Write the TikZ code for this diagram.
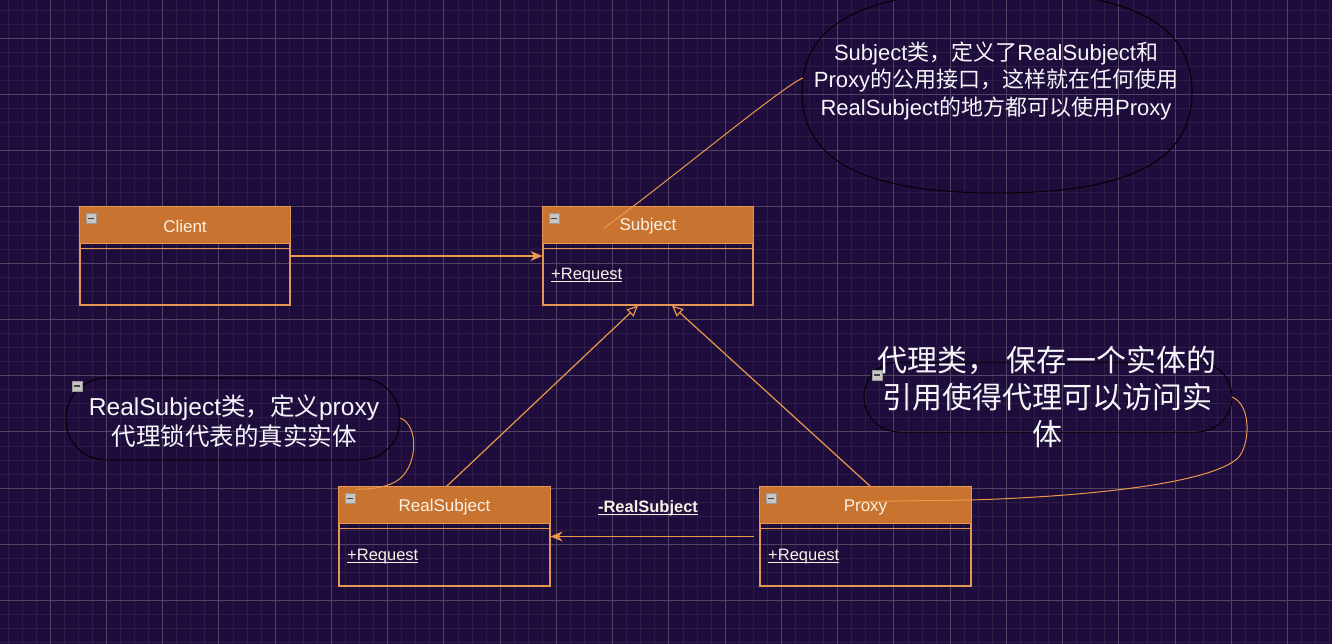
\documentclass[tikz,border=0pt]{standalone}
\usepackage{fontspec}
\setmainfont{Liberation Sans}
\newfontfamily\cjk{Noto Sans CJK SC}
\usetikzlibrary{arrows.meta,calc}
\definecolor{bg}{RGB}{30,12,60}
\definecolor{gridminor}{RGB}{44,28,70}
\definecolor{gridmajor}{RGB}{80,68,98}
\definecolor{hdr}{RGB}{200,116,48}
\definecolor{bord}{RGB}{228,150,84}
\definecolor{txt}{RGB}{250,240,228}
\definecolor{conn}{RGB}{234,152,74}
\definecolor{notetxt}{RGB}{245,245,250}
\newcommand\myul[1]{\setbox0\hbox{#1}\rlap{\rule[-2.2pt]{\wd0}{1.1pt}}\box0}
\tikzset{
  classbox/.style={draw=bord, line width=1.1pt, inner sep=0pt},
  hdrtext/.style={text=txt, font=\fontsize{17}{19}\selectfont, inner sep=0pt},
  methtext/.style={text=txt, font=\fontsize{16.5}{19}\selectfont, inner sep=0pt, anchor=west},
  connline/.style={draw=conn, line width=1.2pt},
  noteline/.style={draw=black, line width=1pt},
  notetext/.style={text=notetxt, align=center, inner sep=0pt},
  minusicon/.pic={\draw[fill=gray!45, draw=gray!80, line width=0.6pt] (-5,-5) rectangle (5,5);
                  \draw[line width=1.4pt, black!75] (-3,0) -- (3,0);}
}
\begin{document}
\begin{tikzpicture}[x=1pt,y=-1pt]
\fill[bg] (0,0) rectangle (1332,644);
\useasboundingbox (0,0) rectangle (1332,644);
% grid
\foreach \i in {-1,...,95} {
  \draw[gridminor, line width=0.6pt] ({7.8125+\i*14.0625},0) -- ({7.8125+\i*14.0625},644);
}
\foreach \i in {-1,...,46} {
  \draw[gridminor, line width=0.6pt] (0,{9.875+\i*14.0625}) -- (1332,{9.875+\i*14.0625});
}
\foreach \i in {0,...,24} {
  \draw[gridmajor, line width=0.8pt] ({-6.25+\i*56.25},0) -- ({-6.25+\i*56.25},644);
}
\foreach \i in {0,...,11} {
  \draw[gridmajor, line width=0.8pt] (0,{38+\i*56.25}) -- (1332,{38+\i*56.25});
}

% classes
\node[classbox, minimum width=210pt, minimum height=98pt] (client) at (185,256) {};
\node[classbox, minimum width=210pt, minimum height=98pt] (subject) at (648,256) {};
\node[classbox, minimum width=211pt, minimum height=99pt] (real) at (444.5,536.5) {};
\node[classbox, minimum width=211pt, minimum height=99pt] (proxy) at (865.5,536.5) {};

\foreach \c in {client,subject,real,proxy} {
  \fill[hdr] (\c.north west) rectangle ([yshift=-37pt]\c.north east);
  \draw[bord, line width=1.1pt] (\c.north west) rectangle ([yshift=-37pt]\c.north east);
  \draw[bord, line width=1.1pt] ([yshift=-42pt]\c.north west) -- ([yshift=-42pt]\c.north east);
  \pic at ([shift={(12,12)}]\c.north west) {minusicon};
}

\node[hdrtext] (clientT) at (185,226.5) {Client};
\node[hdrtext] (subjectT) at (648,226.5) {Subject};
\node[hdrtext] (realT) at (444.5,507.5) {RealSubject};
\node[hdrtext] (proxyT) at (865.5,507.5) {Proxy};

\node[methtext] (subjectM) at (551,276) {\myul{+Request}};
\node[methtext] (realM) at (347,557) {\myul{+Request}};
\node[methtext] (proxyM) at (768,557) {\myul{+Request}};

% notes
\draw[noteline] (802,92) .. controls (802,23.3) and (864.4,-9) .. (997,-9)
  .. controls (1129.6,-9) and (1192,23.3) .. (1192,92)
  .. controls (1192,160.7) and (1129.6,193) .. (997,193)
  .. controls (864.4,193) and (802,160.7) .. (802,92);
\node[notetext, font=\fontsize{22}{27.5}\selectfont] (note1) at (996,80.5)
  {Subject{\cjk 类，定义了}RealSubject{\cjk 和}\\Proxy{\cjk 的公用接口，这样就在任何使用}\\RealSubject{\cjk 的地方都可以使用}Proxy};
\coordinate (note1c) at (803,78);

\draw[noteline, rounded corners=40pt] (66,378) rectangle (400,460);
\pic at (77,386) {minusicon};
\node[notetext, font=\fontsize{24.5}{30}\selectfont] (note2) at (234,421)
  {RealSubject{\cjk 类，定义}proxy\\{\cjk 代理锁代表的真实实体}};
\coordinate (note2c) at (400,418);

\draw[noteline, rounded corners=35pt] (864,362) rectangle (1232,432);
\pic at (877,375) {minusicon};
\node[notetext, font=\cjk\fontsize{30}{37}\selectfont] (note3) at (1047,397)
  {代理类，\hspace{0.3em}保存一个实体的\\引用使得代理可以访问实\\体};
\coordinate (note3c) at (1232,397);

% connectors
\draw[connline, -{Stealth[length=12pt,width=10pt]}] (client.east) -- (subject.west);
\draw[connline, -{Triangle[open,length=11pt,width=10pt]}] ([xshift=2pt]real.north) -- ([xshift=-10pt]subject.south);
\draw[connline, -{Triangle[open,length=11pt,width=10pt]}] ([xshift=5pt]proxy.north) -- ([xshift=24pt]subject.south);
\draw[connline, -{Stealth[length=12pt,width=10pt]}] ([xshift=-5pt]proxy.west) -- (real.east);
\node[text=txt, font=\bfseries\fontsize{16.5}{19}\selectfont, inner sep=0pt] (assocL) at (648,508.5) {\myul{-RealSubject}};

\draw[connline, line width=1pt] (note1c) .. controls (785,84) and (655,192) .. ([shift={(-44,-28)}]subject.center);
\draw[connline, line width=1pt] (note2c) .. controls (420,425) and (418,470) .. (395,482)
  .. controls (382,489) and (366,489) .. ([shift={(-89,-47)}]real.center);
\draw[connline, line width=1pt] (note3c) .. controls (1252,405) and (1250,445) .. (1238,458)
  .. controls (1212,482) and (1100,496) .. (971,500) -- ([shift={(-7,-35)}]proxy.center);
\end{tikzpicture}
\end{document}
